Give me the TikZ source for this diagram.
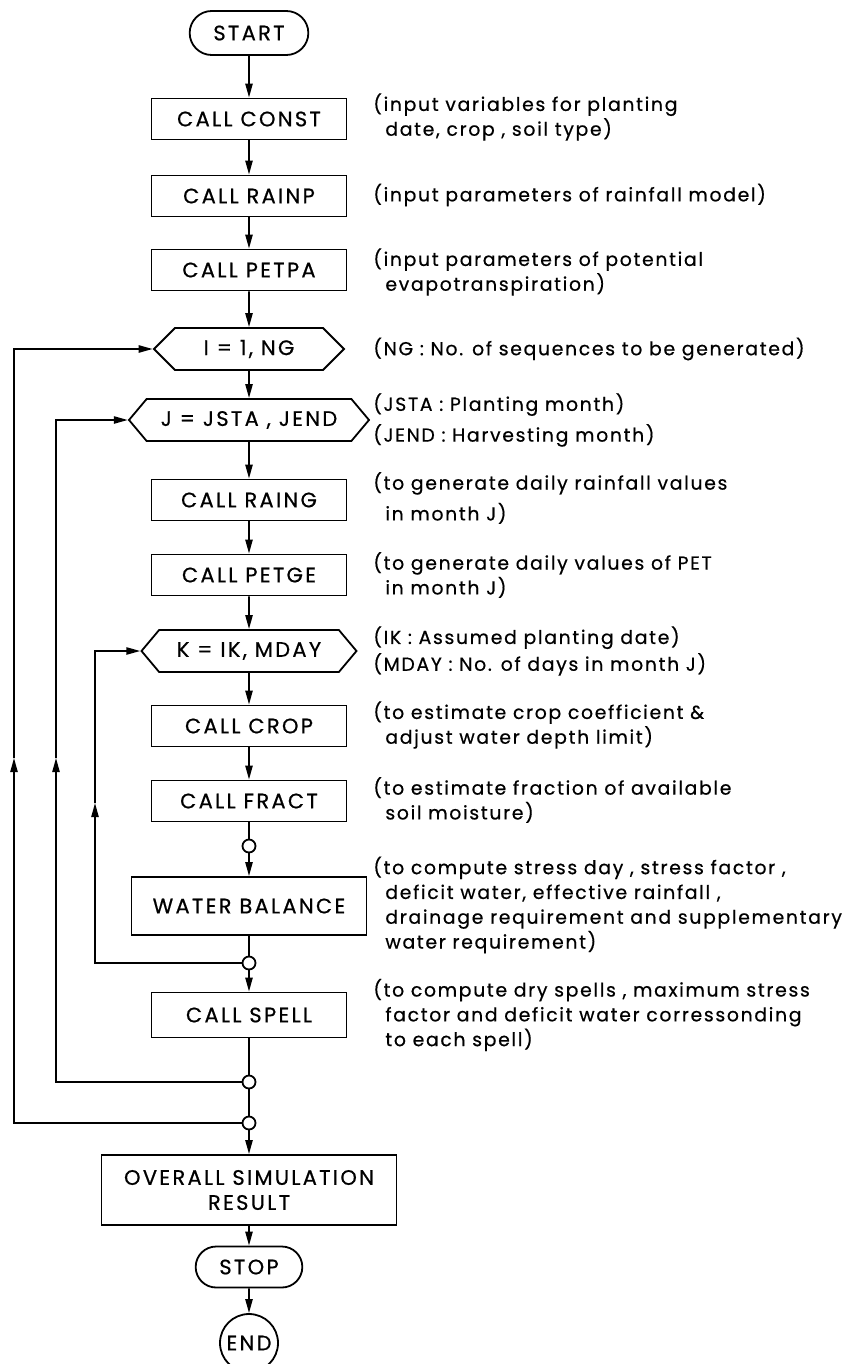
\documentclass[tikz,border=0pt]{standalone}
\usepackage{fontspec}
\setmainfont{Poppins}
\newfontfamily\boxfont{Poppins}[LetterSpace=11,FakeBold=0.6]
\newfontfamily\notefont{Poppins}[LetterSpace=9,FakeBold=0.6]
\usetikzlibrary{shapes.misc,shapes.symbols,arrows.meta}
\newcommand{\indline}{\hspace*{6pt}}

\begin{document}
\begin{tikzpicture}[x=0.5pt,y=-0.5pt,
    every node/.style={font=\boxfont\fontsize{10.5}{12.5}\selectfont},
    box/.style={draw,line width=0.9pt,minimum width=97.5pt,minimum height=20.5pt,inner sep=2pt},
    term/.style={draw,line width=0.9pt,rounded rectangle,minimum width=66pt,minimum height=22pt},
    hexa/.style={draw,line width=0.9pt,signal,signal to=west and east,signal pointer angle=100,minimum height=21pt},
    junc/.style={draw,line width=0.9pt,circle,inner sep=0pt,minimum size=6.5pt},
    note/.style={anchor=west,inner sep=0pt,align=left,font=\notefont\fontsize{9.4}{12.4}\selectfont},
    flow/.style={line width=0.9pt,-{Triangle[length=7pt,width=3.6pt]}},
    wire/.style={line width=0.9pt}]
                \useasboundingbox (0,0) rectangle (849,1364);
                \node[term]  (1) at (249, 33) {START};
                \node[box]  (2) at (249, 119) {CALL CONST};
                \node[box]  (3) at (249, 196) {CALL RAINP};
                \node[box]  (4) at (249, 270) {CALL PETPA};
                \node[hexa,minimum width=95pt,signal pointer angle=90]  (5) at (249, 349) {I = 1, NG};
                \node[hexa,minimum width=120pt]  (6) at (249, 420) {J = JSTA , JEND};
                \node[box]  (7) at (249, 500) {CALL RAING};
                \node[box]  (8) at (249, 575) {CALL PETGE};
                \node[hexa,minimum width=107.5pt]  (9) at (249, 651) {K = IK, MDAY};
                \node[box]  (10) at (249, 726) {CALL CROP};
                \node[box]  (11) at (249, 801) {CALL FRACT};
                \node[junc]  (12) at (249, 846) {};
                \node[box,minimum width=117.5pt,minimum height=29pt]  (13) at (249, 906) {WATER BALANCE};
                \node[junc]  (14) at (249, 963) {};
                \node[box,minimum height=22.5pt]  (15) at (249, 1015) {CALL SPELL};
                \node[junc]  (16) at (249, 1082) {};
                \node[junc]  (17) at (249, 1123) {};
                \node[box,minimum width=147.5pt,minimum height=35pt,align=center]  (18) at (249, 1190) {OVERALL SIMULATION\\RESULT};
                \node[term,minimum width=60pt,minimum height=20.5pt]  (19) at (249, 1267) {STOP};
                \node[draw,line width=0.9pt,circle,inner sep=0pt,minimum size=29pt]  (20) at (249, 1343) {END};
                % loop corners
                \node  (41) at (95, 963) {};
                \node  (42) at (95, 803) {};
                \node  (43) at (95, 651) {};
                \node  (51) at (56, 1082) {};
                \node  (52) at (56, 758) {};
                \node  (53) at (56, 420) {};
                \node  (61) at (14, 1123) {};
                \node  (62) at (14, 758) {};
                \node  (63) at (14, 349) {};
                % remarks
                \node[note]  (22) at (373, 117) {(input variables for planting\\\indline date, crop , soil type)};
                \node[note]  (23) at (373, 195) {(input parameters of rainfall model)};
                \node[note]  (24) at (373, 272) {(input parameters of potential\\\indline evapotranspiration)};
                \node[note]  (25) at (373, 349) {(NG : No. of sequences to be generated)};
                \node[note]  (26) at (373, 420) {(JSTA : Planting month)\\[3pt](JEND : Harvesting month)};
                \node[note]  (27) at (373, 498) {(to generate daily rainfall values\\[3pt]\indline in month J)};
                \node[note]  (28) at (373, 575) {(to generate daily values of PET\\\indline in month J)};
                \node[note]  (29) at (373, 651) {(IK : Assumed planting date)\\[1pt](MDAY : No. of days in month J)};
                \node[note]  (30) at (373, 725) {(to estimate crop coefficient \&\\\indline adjust water depth limit)};
                \node[note]  (31) at (373, 800) {(to estimate fraction of available\\\indline soil moisture)};
                \node[note]  (33) at (373, 905) {(to compute stress day , stress factor ,\\\indline deficit water, effective rainfall ,\\\indline drainage requirement and supplementary\\\indline water requirement)};
                \node[note]  (35) at (373, 1015) {(to compute dry spells , maximum stress\\\indline factor and deficit water corressonding\\\indline to each spell)};
                \draw[flow]  (1) to (2);
                \draw[flow] (2) to (3);
                \draw[flow] (3) to (4);
                \draw[flow] (4) to (5);
                \draw[flow] (5) to (6);
                \draw[flow] (6) to (7);
                \draw[flow] (7) to (8);
                \draw[flow] (8) to (9);
                \draw[flow] (9) to (10);
                \draw[flow] (10) to (11);
                \draw[wire] (11) to (12);
                \draw[flow] (12) to (13);
                \draw[wire] (13) to (14);
                \draw[flow] (14) to (15);
                \draw[wire] (15) to (16);
                \draw[wire] (16) to (17);
                \draw[flow] (17) to (18);
                \draw[flow] (18) to (19);
                \draw[flow] (19) to (20);
                \draw[flow] (14) -- (41.center) -- (42.center);
                \draw[flow] (42.center) -- (43.center) -- (9);
                \draw[flow] (16) -- (51.center) -- (52.center);
                \draw[flow] (52.center) -- (53.center) -- (6);
                \draw[flow] (17) -- (61.center) -- (62.center);
                \draw[flow] (62.center) -- (63.center) -- (5);
\end{tikzpicture}
\end{document}
